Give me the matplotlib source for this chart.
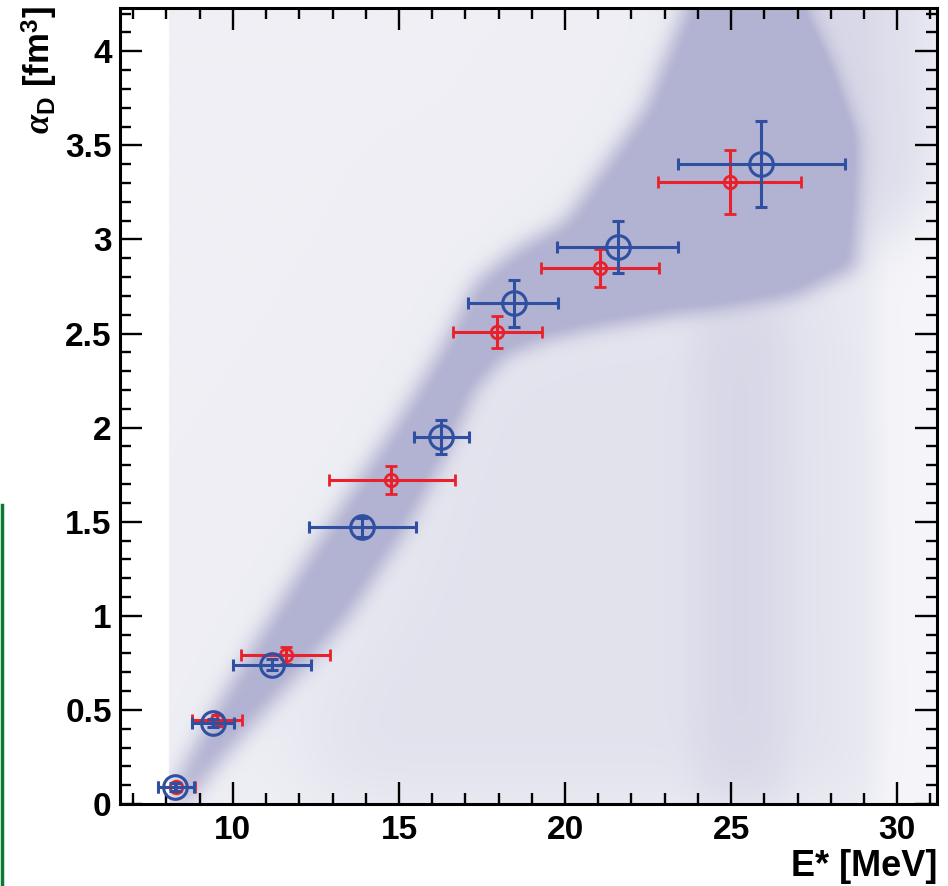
import numpy as np
import matplotlib
matplotlib.use("Agg")
import matplotlib.pyplot as plt
from matplotlib.path import Path
from matplotlib.ticker import MultipleLocator
from matplotlib.lines import Line2D

# ---------------- data ----------------
blue_x = [8.27, 9.39, 11.19, 13.90, 16.27, 18.45, 21.59, 25.90]
blue_y = [0.09, 0.43, 0.74, 1.47, 1.95, 2.66, 2.96, 3.40]
blue_xlo = [0.53, 0.61, 1.20, 1.60, 0.82, 1.37, 1.83, 2.50]
blue_xhi = [0.56, 0.65, 1.16, 1.60, 0.84, 1.33, 1.81, 2.52]
blue_yerr = [0.02, 0.02, 0.03, 0.05, 0.09, 0.125, 0.14, 0.23]

red_x = [8.30, 9.52, 11.60, 14.76, 17.96, 21.05, 24.97]
red_y = [0.09, 0.445, 0.79, 1.72, 2.51, 2.85, 3.305]
red_xlo = [0.55, 0.74, 1.37, 1.88, 1.32, 1.78, 2.17]
red_xhi = [0.55, 0.74, 1.31, 1.92, 1.34, 1.77, 2.13]
red_yerr = [0.02, 0.03, 0.045, 0.075, 0.085, 0.10, 0.17]

# shaded band outline (upper/left edge then lower/right edge)
band_upper_x = [8.05, 8.5, 9.6, 10.8, 12.2, 13.5, 15.0, 16.2, 17.3, 18.5, 20.0, 22.4, 24.0, 26.8, 28.0, 28.8]
band_upper_y = [0.00, 0.20, 0.55, 0.90, 1.30, 1.65, 2.05, 2.40, 2.78, 2.95, 3.10, 3.70, 4.40, 4.40, 3.95, 3.55]
band_lower_x = [28.8, 27.0, 24.0, 21.0, 19.5, 18.2, 17.3, 16.4, 15.2, 13.5, 12.3, 10.5, 9.5, 8.6]
band_lower_y = [2.85, 2.70, 2.62, 2.53, 2.47, 2.38, 2.20, 1.85, 1.45, 1.00, 0.75, 0.40, 0.20, 0.00]

# fainter regions
halo_x = [25.5, 31.2, 31.2, 29.5, 28.0]
halo_y = [4.40, 4.40, 3.30, 2.90, 3.20]
lower_x = [12.0, 15.0, 17.5, 20.0, 24.0, 28.8, 29.0, 12.5]
lower_y = [0.40, 1.20, 2.30, 2.50, 2.60, 2.80, 0.00, 0.00]
strip_x = [24.0, 26.6, 26.6, 24.0]
strip_y = [0.00, 0.00, 2.70, 2.70]

xticks = [10, 15, 20, 25, 30]
yticks = [0, 0.5, 1, 1.5, 2, 2.5, 3, 3.5, 4]
ytick_labels = ["0", "0.5", "1", "1.5", "2", "2.5", "3", "3.5", "4"]

XMIN, XMAX, YMIN, YMAX = 6.6, 31.2, 0.0, 4.23

# ---------------- style ----------------
plt.rcParams["font.family"] = ["Liberation Sans", "DejaVu Sans"]
plt.rcParams["font.weight"] = "bold"
plt.rcParams["mathtext.fontset"] = "custom"
plt.rcParams["mathtext.rm"] = "Liberation Sans:bold"
plt.rcParams["mathtext.bf"] = "Liberation Sans:bold"
plt.rcParams["mathtext.it"] = "Liberation Serif:italic"

fig = plt.figure(figsize=(9.48, 8.86), dpi=100)
ax = fig.add_axes([120 / 948, 1 - 804 / 886, (937 - 120) / 948, (804 - 8) / 886])

# ---------------- shaded background ----------------
nx, ny = 600, 600
gx = np.linspace(XMIN, XMAX, nx)
gy = np.linspace(YMIN, YMAX, ny)
GX, GY = np.meshgrid(gx, gy)
pts = np.column_stack([GX.ravel(), GY.ravel()])


def poly_mask(xs, ys):
    p = Path(np.column_stack([xs, ys]))
    return p.contains_points(pts).reshape(ny, nx).astype(float)


def blur(a, s):
    r = int(3 * s)
    k = np.exp(-0.5 * (np.arange(-r, r + 1) / s) ** 2)
    k /= k.sum()
    b = np.pad(a, ((0, 0), (r, r)), mode="edge")
    b = np.apply_along_axis(lambda v: np.convolve(v, k, mode="valid"), 1, b)
    b = np.pad(b, ((r, r), (0, 0)), mode="edge")
    b = np.apply_along_axis(lambda v: np.convolve(v, k, mode="valid"), 0, b)
    return b


band = poly_mask(band_upper_x + band_lower_x, band_upper_y + band_lower_y)
halo = poly_mask(halo_x, halo_y)
lower = poly_mask(lower_x, lower_y)
strip = poly_mask(strip_x, strip_y)

D = (1.0 * blur(band, 7) + 0.12 * blur(band, 30) + 0.35 * blur(halo, 20)
     + 0.21 * blur(lower, 28) + 0.17 * blur(strip, 12))
D = np.clip(D, 0, 1)

base = np.empty((ny, nx, 3))
base[:] = np.array([239, 239, 245]) / 255
fade = np.clip((gx - 29.0) / 0.8, 0, 1)
base = base * (1 - fade[None, :, None]) + (np.array([246, 246, 250]) / 255) * fade[None, :, None]
band_col = np.array([178, 178, 210]) / 255
img = base * (1 - D[..., None]) + band_col * D[..., None]
img[:, gx < 8.05] = 1.0
ax.imshow(img, origin="lower", extent=[XMIN, XMAX, YMIN, YMAX], aspect="auto",
          interpolation="bilinear", zorder=0)

# ---------------- data points ----------------
red = "#e8212b"
blue = "#2f4fa0"
ax.errorbar(red_x, red_y, xerr=[red_xlo, red_xhi], yerr=red_yerr, fmt="o",
            ms=9, mfc="none", mec=red, mew=2.0, color=red, elinewidth=2.2,
            capsize=4.5, capthick=2.2, zorder=3)
ax.errorbar(blue_x, blue_y, xerr=[blue_xlo, blue_xhi], yerr=blue_yerr, fmt="o",
            ms=17, mfc="none", mec=blue, mew=2.2, color=blue, elinewidth=2.2,
            capsize=4.5, capthick=2.2, zorder=4)

# ---------------- axes ----------------
ax.set_xlim(XMIN, XMAX)
ax.set_ylim(YMIN, YMAX)
ax.set_xticks(xticks)
ax.set_xticklabels([str(t) for t in xticks])
ax.set_yticks(yticks)
ax.set_yticklabels(ytick_labels)
ax.xaxis.set_minor_locator(MultipleLocator(1))
ax.yaxis.set_minor_locator(MultipleLocator(0.1))
ax.tick_params(which="both", direction="in", top=True, right=True, width=1.7,
               labelsize=24, color="black")
ax.tick_params(which="major", length=16)
ax.tick_params(which="minor", length=8)
ax.tick_params(axis="x", pad=8)
ax.tick_params(axis="y", pad=6)
for lab in ax.get_xticklabels() + ax.get_yticklabels():
    lab.set_fontweight("bold")
for sp in ax.spines.values():
    sp.set_linewidth(2.2)
    sp.set_zorder(10)

fig.text(937 / 948, 1 - 866 / 886, "E* [MeV]", ha="right", va="center",
         fontsize=26, fontweight="bold")
fig.text(40 / 948, 1 - 6 / 886, r"$\alpha_{\mathbf{D}}$ [fm$^{\mathbf{3}}$]",
         rotation=90, ha="center", va="top", fontsize=25, fontweight="bold")

# green frame fragment at the left edge
fig.add_artist(Line2D([0.002, 0.002], [0, 1 - 505 / 886], color="#0b7a35",
                      lw=2.5, transform=fig.transFigure))

fig.savefig("out.png", dpi=100)
